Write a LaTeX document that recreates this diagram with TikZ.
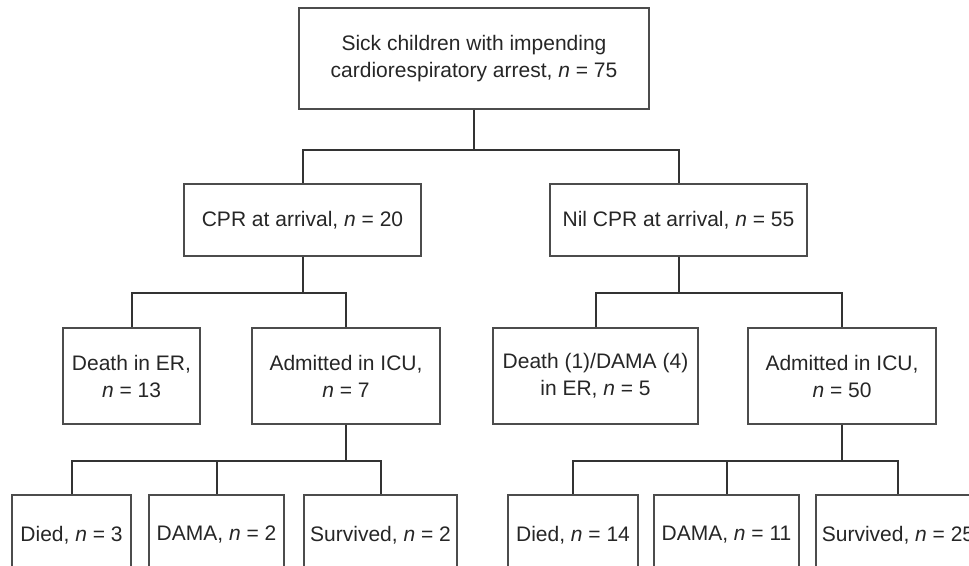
\documentclass[tikz,border=0pt]{standalone}
\usepackage{fontspec}
\setmainfont{Liberation Sans}
\usetikzlibrary{positioning}
\tikzset{>=latex}
\tikzset{box/.style 2 args={draw=black!70, line width=1pt, align=center, inner sep=0pt,
    minimum width=#1*0.5pt, minimum height=#2*0.5pt, text=black!85,
    font=\fontsize{10.5}{13.5}\selectfont}}

\begin{document}
\begin{tikzpicture}[x=0.5pt, y=-0.5pt, link/.style={draw=black!80, line width=1pt}]

 \useasboundingbox (0,0) rectangle (969,566);

 \node[box={350}{101}] (top) at (474,58.5) {Sick children with impending\\cardiorespiratory arrest, \textit{n} = 75};

 \node[box={237}{72}] (cpr) at (302.5,220) {CPR at arrival, \textit{n} = 20};
 \node[box={257}{72}] (nilcpr) at (678.5,220) {Nil CPR at arrival, \textit{n} = 55};

 \node[box={137}{96}] (deathL) at (131.5,376) {Death in ER,\\\textit{n} = 13};
 \node[box={188}{96}] (icuL) at (346,376) {Admitted in ICU,\\\textit{n} = 7};
 \node[box={205}{96}] (deathR) at (595.5,376) {Death (1)/DAMA (4)\\in ER, \textit{n} = 5};
 \node[box={188}{96}] (icuR) at (842,376) {Admitted in ICU,\\\textit{n} = 50};

 \node[box={119}{80}] (diedL) at (71.5,535) {Died, \textit{n} = 3};
 \node[box={135}{80}] (damaL) at (216.5,535) {DAMA, \textit{n} = 2};
 \node[box={153}{80}] (survL) at (380.5,535) {Survived, \textit{n} = 2};
 \node[box={130}{80}] (diedR) at (573,535) {Died, \textit{n} = 14};
 \node[box={145}{80}] (damaR) at (726.5,535) {DAMA, \textit{n} = 11};
 \node[box={164}{80}] (survR) at (898,535) {Survived, \textit{n} = 25};

 % branches
 \foreach \c in {cpr, nilcpr}
    \draw[link] (top.south) -- ++(0,40) -| (\c.north);
 \foreach \c in {deathL, icuL}
    \draw[link] (cpr.south) -- ++(0,36) -| (\c.north);
 \foreach \c in {deathR, icuR}
    \draw[link] (nilcpr.south) -- ++(0,36) -| (\c.north);
 \foreach \c in {diedL, damaL, survL}
    \draw[link] (icuL.south) -- ++(0,36) -| (\c.north);
 \foreach \c in {diedR, damaR, survR}
    \draw[link] (icuR.south) -- ++(0,36) -| (\c.north);

\end{tikzpicture}
\end{document}
